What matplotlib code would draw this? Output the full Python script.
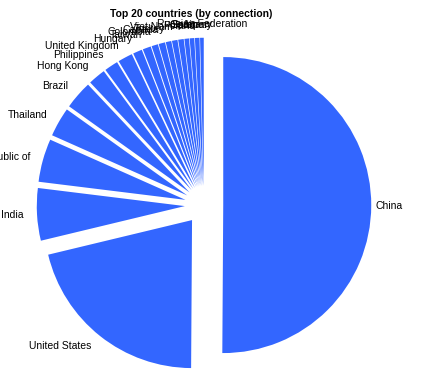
import matplotlib
matplotlib.use("Agg")
import numpy as np
import matplotlib.pyplot as plt

plt.rcParams['font.family'] = ['Liberation Sans', 'DejaVu Sans']

countries = ["China", "United States", "India", "Korea, Republic of", "Thailand",
             "Brazil", "Hong Kong", "Philippines", "United Kingdom", "Hungary",
             "Taiwan", "Colombia", "Canada", "Turkey", "Viet Nam", "Poland",
             "Spain", "Germany", "Japan", "Russian Federation"]
share = [50.0, 21.1, 5.7, 4.7, 3.2, 3.1, 1.9, 1.5, 1.6, 1.0,
         0.9, 0.7, 0.7, 0.6, 0.6, 0.6, 0.5, 0.5, 0.5, 0.4]

fig = plt.figure(figsize=(4.3, 3.78), dpi=100)
ax = fig.add_axes([0, 0, 1, 1])

wedges, texts = ax.pie(share, labels=countries, colors=["#3366ff"] * len(share),
                       explode=[0.13] * len(share), startangle=90, counterclock=False,
                       labeldistance=1.09, wedgeprops=dict(linewidth=0),
                       textprops=dict(fontsize=7.5, color="black"))

# labels close to the top are centred, China label sits nearer its slice
for w, t in zip(wedges, texts):
    mid = np.deg2rad((w.theta1 + w.theta2) / 2)
    if abs(np.cos(mid)) < 0.15:
        t.set_ha("center")
texts[0].set_x(0.13 + 1.03)

# 148 px per unit, pie centre at (204, 205) px from top-left
ax.set_xlim(-204 / 148, (430 - 204) / 148)
ax.set_ylim(-(378 - 205) / 148, 205 / 148)
ax.set_aspect('auto')
ax.axis('off')

fig.text(0.445, 1 - 14 / 378, "Top 20 countries (by connection)",
         ha="center", va="center", fontsize=7.5, fontweight="bold")

fig.savefig("out.png", dpi=100)
